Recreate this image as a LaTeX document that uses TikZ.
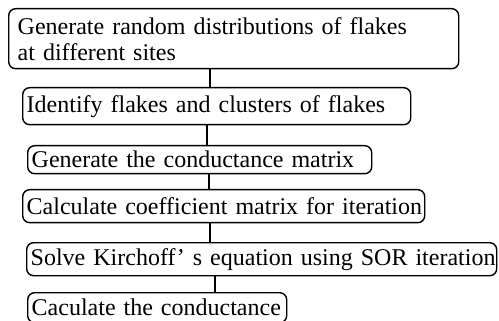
\documentclass[tikz,border=0pt]{standalone}
\usepackage{fontspec}
\setmainfont{Liberation Serif}
\begin{document}
\begin{tikzpicture}[x=1pt,y=-1pt,
  stepbox/.style={draw, line width=1.4pt, rounded corners=7pt, anchor=north west,
    inner xsep=4pt, inner ysep=0pt, align=left,
    font=\fontsize{24}{26}\selectfont},
  link/.style={line width=1.4pt}]
\useasboundingbox (0,0) rectangle (499,321);
\node[stepbox, inner xsep=9pt, text width=432pt, minimum height=60pt] (s1) at (8,8)
  {\mbox{Generate random distributions of flakes}\\\mbox{at different sites}};
\node[stepbox, text width=380pt, minimum height=37pt] (s2) at (22,87)
  {\mbox{Identify flakes and clusters of flakes}};
\node[stepbox, text width=336pt, minimum height=28pt] (s3) at (27,145)
  {\mbox{Generate the conductance matrix}};
\node[stepbox, text width=394pt, minimum height=33pt] (s4) at (22,189)
  {\mbox{Calculate coefficient matrix for iteration}};
\node[stepbox, text width=462pt, minimum height=33pt] (s5) at (26,242)
  {\mbox{Solve Kirchoff' s equation using SOR iteration}};
\node[stepbox, text width=251pt, minimum height=30pt] (s6) at (27,292)
  {\mbox{Caculate the conductance}};
\coordinate (c1) at (210,0);
\coordinate (c2) at (207,0);
\coordinate (c3) at (209,0);
\coordinate (c4) at (210,0);
\coordinate (c5) at (215,0);
\draw[link] (s1.south -| c1) -- (s2.north -| c1);
\draw[link] (s2.south -| c2) -- (s3.north -| c2);
\draw[link] (s3.south -| c3) -- (s4.north -| c3);
\draw[link] (s4.south -| c4) -- (s5.north -| c4);
\draw[link] (s5.south -| c5) -- (s6.north -| c5);
\end{tikzpicture}
\end{document}
